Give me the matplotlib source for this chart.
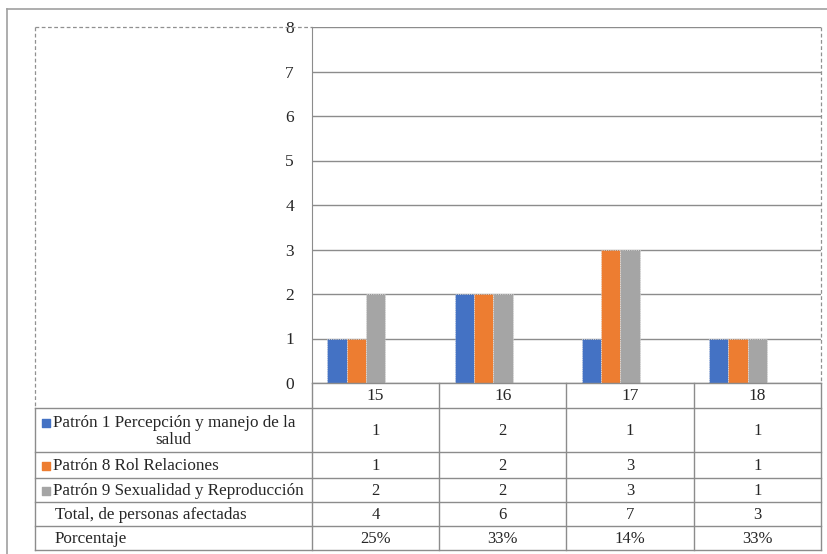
import numpy as np
import matplotlib
matplotlib.use("Agg")
import matplotlib.pyplot as plt
from matplotlib import transforms

plt.rcParams['font.family'] = ['Liberation Serif', 'DejaVu Serif']

edades = ['15', '16', '17', '18']
series = ['Patrón 1 Percepción y manejo de la salud',
          'Patrón 8 Rol Relaciones',
          'Patrón 9 Sexualidad y Reproducción']
patron1 = [1, 2, 1, 1]
patron8 = [1, 2, 3, 1]
patron9 = [2, 2, 3, 1]
total = [4, 6, 7, 3]
porcentaje = ['25%', '33%', '14%', '33%']
colores = ['#4472C4', '#ED7D31', '#A5A5A5']

W, H = 828, 554
fig = plt.figure(figsize=(W / 100, H / 100), dpi=100)
fig.patch.set_facecolor('white')

# pixel rows of the table under the plot
x_izq, x_eje, x_der = 35, 312, 821
y_top, y_cero = 27, 383
filas = [383, 408, 452, 478, 502, 526, 550]
linea = '#8c8c8c'
texto = '#262626'
fs_lab = 12.3

ax = fig.add_axes([x_eje / W, 1 - y_cero / H, (x_der - x_eje) / W, (y_cero - y_top) / H])
x = np.arange(len(edades))
ancho = 0.152
for i, vals in enumerate([patron1, patron8, patron9]):
    ax.bar(x + (i - 2) * ancho, vals, ancho, color=colores[i], zorder=3,
           edgecolor='#e6e6e6', linewidth=0.6, linestyle=':')
ax.set_xlim(-0.5, len(edades) - 0.5)
ax.set_ylim(0, 8)
ax.set_yticks(range(9))
ax.set_xticks([])
ax.yaxis.grid(True, color=linea, linewidth=1)
ax.set_axisbelow(True)
for s in ['top', 'right', 'bottom']:
    ax.spines[s].set_visible(False)
ax.spines['left'].set_color(linea)
ax.tick_params(axis='y', length=0, pad=13, labelsize=12.5, labelcolor=texto)

# overlay in pixel coordinates for the table and frame
ov = fig.add_axes([0, 0, 1, 1], facecolor='none')
ov.set_xlim(0, W)
ov.set_ylim(H, 0)
ov.axis('off')
tr = transforms.blended_transform_factory(ax.transData, ov.transData)

# outer frame
ov.plot([7, W], [9, 9], color='#a0a0a0', lw=1.2)
ov.plot([7, 7], [9, H], color='#a0a0a0', lw=1.2)
# dashed chart-area box
ov.plot([x_izq, x_eje], [y_top, y_top], color='#909090', lw=0.9, ls=(0, (3, 2)))
ov.plot([x_izq, x_izq], [y_top, filas[1]], color='#909090', lw=0.9, ls=(0, (3, 2)))
ov.plot([x_der, x_der], [y_top, y_cero], color='#909090', lw=0.9, ls=(0, (3, 2)))

# table lines
ov.plot([x_eje, x_der], [filas[0], filas[0]], color=linea, lw=1)
for y in filas[1:]:
    ov.plot([x_izq, x_der], [y, y], color=linea, lw=1)
ov.plot([x_izq, x_izq], [filas[1], filas[-1]], color=linea, lw=1)
ov.plot([x_eje, x_eje], [filas[0], filas[-1]], color=linea, lw=1)
for b in np.arange(len(edades)) + 0.5:
    ov.plot([b, b], [filas[0], filas[-1]], color=linea, lw=1, transform=tr)

# category header and values
centros = [(filas[k] + filas[k + 1]) / 2 for k in range(len(filas) - 1)]
for j, e in enumerate(edades):
    ov.text(j, centros[0] + 1, e, transform=tr, ha='center', va='center',
            fontsize=12.5, color=texto)
for k, fila in enumerate([patron1, patron8, patron9, total, porcentaje]):
    for j, v in enumerate(fila):
        ov.text(j, centros[k + 1] + 1, str(v), transform=tr, ha='center',
                va='center', fontsize=12, color=texto)

# row labels with legend keys
ov.text(53, centros[1] - 7, 'Patrón 1 Percepción y manejo de la', ha='left',
        va='center', fontsize=fs_lab, color=texto)
ov.text(173, centros[1] + 10, 'salud', ha='center', va='center', fontsize=fs_lab, color=texto)
ov.text(53, centros[2] + 1, series[1], ha='left', va='center', fontsize=fs_lab, color=texto)
ov.text(53, centros[3] + 1, series[2], ha='left', va='center', fontsize=fs_lab, color=texto)
ov.text(55, centros[4] + 1, 'Total, de personas afectadas', ha='left', va='center',
        fontsize=fs_lab, color=texto)
ov.text(55, centros[5] + 1, 'Porcentaje', ha='left', va='center', fontsize=fs_lab, color=texto)
for k, yk in enumerate([centros[1] - 7, centros[2] + 1, centros[3] + 1]):
    ov.scatter([46.5], [yk], marker='s', s=30, color=colores[k])

fig.savefig('out.png', dpi=100, facecolor='white')
